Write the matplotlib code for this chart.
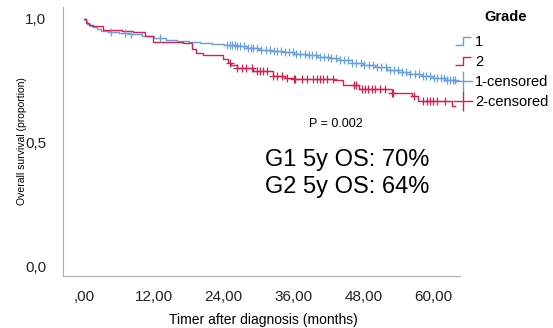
import numpy as np
import matplotlib.pyplot as plt
from matplotlib.lines import Line2D
from matplotlib.path import Path

plt.rcParams['font.family'] = ['Liberation Sans', 'DejaVu Sans']

# Kaplan-Meier step points
g1_t = [0, 0.3, 0.6, 1.0, 1.5, 2.2, 3.0, 4.5, 6, 8, 10, 12, 14, 16, 18, 20, 22, 24,
        26, 28, 30, 32, 34, 36, 38, 40, 42, 44, 46, 48, 50, 52, 54, 56, 58, 60, 62, 63.8]
g1_s = [1.0, 0.99, 0.98, 0.972, 0.965, 0.958, 0.952, 0.947, 0.942, 0.937, 0.93, 0.922,
        0.915, 0.91, 0.905, 0.902, 0.898, 0.895, 0.889, 0.882, 0.876, 0.871, 0.865, 0.859,
        0.853, 0.847, 0.84, 0.832, 0.823, 0.813, 0.804, 0.795, 0.786, 0.778, 0.77, 0.762,
        0.754, 0.746]
g2_t = [0, 0.3, 0.8, 1.5, 3.2, 6.5, 8.5, 10.5, 11.8, 17.0, 18.5, 19.3, 20.5, 23.8, 24.8,
        25.3, 26.2, 29.0, 32.4, 34.5, 36.0, 42.9, 44.5, 47.3, 52.9, 56.3, 57.4, 63.2, 63.8]
g2_s = [1.0, 0.985, 0.975, 0.97, 0.955, 0.95, 0.945, 0.932, 0.908, 0.904, 0.88, 0.862,
        0.855, 0.837, 0.82, 0.815, 0.80, 0.79, 0.77, 0.763, 0.758, 0.752, 0.735, 0.717,
        0.70, 0.687, 0.67, 0.65, 0.65]

g1_cens = [4.7, 7.0, 8.0, 13.0, 24.6, 25.0, 25.4, 25.9, 26.3, 26.8, 27.5, 28.1, 28.6, 29.0,
           29.8, 30.4, 31.2, 31.9, 32.6, 33.1, 33.8, 34.5, 35.2, 35.9, 36.4, 37.1, 37.9,
           38.6, 39.2, 39.8, 40.5, 41.3, 41.9, 42.5, 43.3, 44.0, 44.6, 45.3, 46.0, 46.8,
           47.5, 48.1, 48.9, 49.6, 50.3, 51.0, 51.8, 52.5, 53.2, 53.9, 54.6, 55.3, 56.0,
           56.8, 57.5, 58.2, 58.8, 59.5, 60.1, 60.7, 61.3, 61.9, 62.4, 62.9, 63.3, 63.7]
g2_cens = [25.1, 26.2, 27.1, 27.9, 28.8, 29.7, 30.2, 30.8, 31.4, 32.5, 33.1, 34.0, 34.8,
           36.0, 36.3, 37.4, 38.3, 39.4, 40.0, 40.6, 41.1, 41.7, 42.8, 46.3, 46.8, 47.7,
           48.3, 48.8, 49.4, 50.0, 50.9, 51.7, 52.9, 53.1, 56.6, 58.3, 58.9, 59.5, 60.0,
           60.6, 62.0]

xticks = [0, 12, 24, 36, 48, 60]
xlabels = [',00', '12,00', '24,00', '36,00', '48,00', '60,00']
yticks = [0.0, 0.5, 1.0]
ylabels = ['0,0', '0,5', '1,0']

blue = '#6a9fe0'
red = '#d8204e'


def at(t, s, x):
    idx = np.searchsorted(t, x, side='right') - 1
    return np.asarray(s)[idx]


fig = plt.figure(figsize=(5.53, 3.28), dpi=100)
ax = fig.add_axes([0.114, 0.159, 0.718, 0.82])

ax.plot(g1_t, g1_s, drawstyle='steps-post', color=blue, lw=1)
ax.plot(g2_t, g2_s, drawstyle='steps-post', color=red, lw=1)
ax.plot(g1_cens, at(g1_t, g1_s, g1_cens), ls='none', marker='+', ms=6, mew=0.9, color=blue)
ax.plot(g2_cens, at(g2_t, g2_s, g2_cens), ls='none', marker='+', ms=6, mew=0.9, color=red)

ax.set_xlim(-3.6, 64.6)
ax.set_ylim(-0.036, 1.048)
ax.set_xticks(xticks)
ax.set_xticklabels(xlabels)
ax.set_yticks(yticks)
ax.set_yticklabels(ylabels)
ax.tick_params(axis='x', length=0, labelsize=11, pad=10, colors='#222222')
ax.tick_params(axis='y', length=0, labelsize=11, pad=12, colors='#222222')
for side in ['top', 'right']:
    ax.spines[side].set_visible(False)
for side in ['left', 'bottom']:
    ax.spines[side].set_color('#aaaaaa')

fig.text(263 / 553, 1 - 320 / 328, 'Timer after diagnosis (months)', ha='center', va='center',
         fontsize=10)
fig.text(22 / 553, 0.5 * (1 - 7 / 328 + 1 - 276 / 328), 'Overall survival (proportion)',
         ha='center', va='center', rotation=90, fontsize=7.5)

fig.text(336 / 553, 1 - 124 / 328, 'P = 0.002', ha='center', va='center', fontsize=9)
fig.text(265 / 553, 1 - 160 / 328, 'G1 5y OS: 70%', ha='left', va='center', fontsize=17)
fig.text(265 / 553, 1 - 187 / 328, 'G2 5y OS: 64%', ha='left', va='center', fontsize=17)

fig.text(506 / 553, 1 - 17 / 328, 'Grade', ha='center', va='center', fontsize=10.5,
         fontweight='bold')

step = Path([(-1, -0.5), (0, -0.5), (0, 0.5), (1, 0.5)],
            [Path.MOVETO, Path.LINETO, Path.LINETO, Path.LINETO])
handles = [
    Line2D([], [], ls='none', marker=step, ms=12, mfc='none', mec=blue, mew=1),
    Line2D([], [], ls='none', marker=step, ms=12, mfc='none', mec=red, mew=1),
    Line2D([], [], ls='none', marker='+', ms=15, mew=1, color=blue),
    Line2D([], [], ls='none', marker='+', ms=15, mew=1, color=red),
]
leg = fig.legend(handles, ['1', '2', '1-censored', '2-censored'],
                 loc='upper left', bbox_to_anchor=(453 / 553, 1 - 35 / 328),
                 frameon=False, fontsize=10.5, handlelength=1.4, handletextpad=0.1,
                 labelspacing=0.42, borderaxespad=0, borderpad=0)

fig.savefig('out.png', dpi=100)
